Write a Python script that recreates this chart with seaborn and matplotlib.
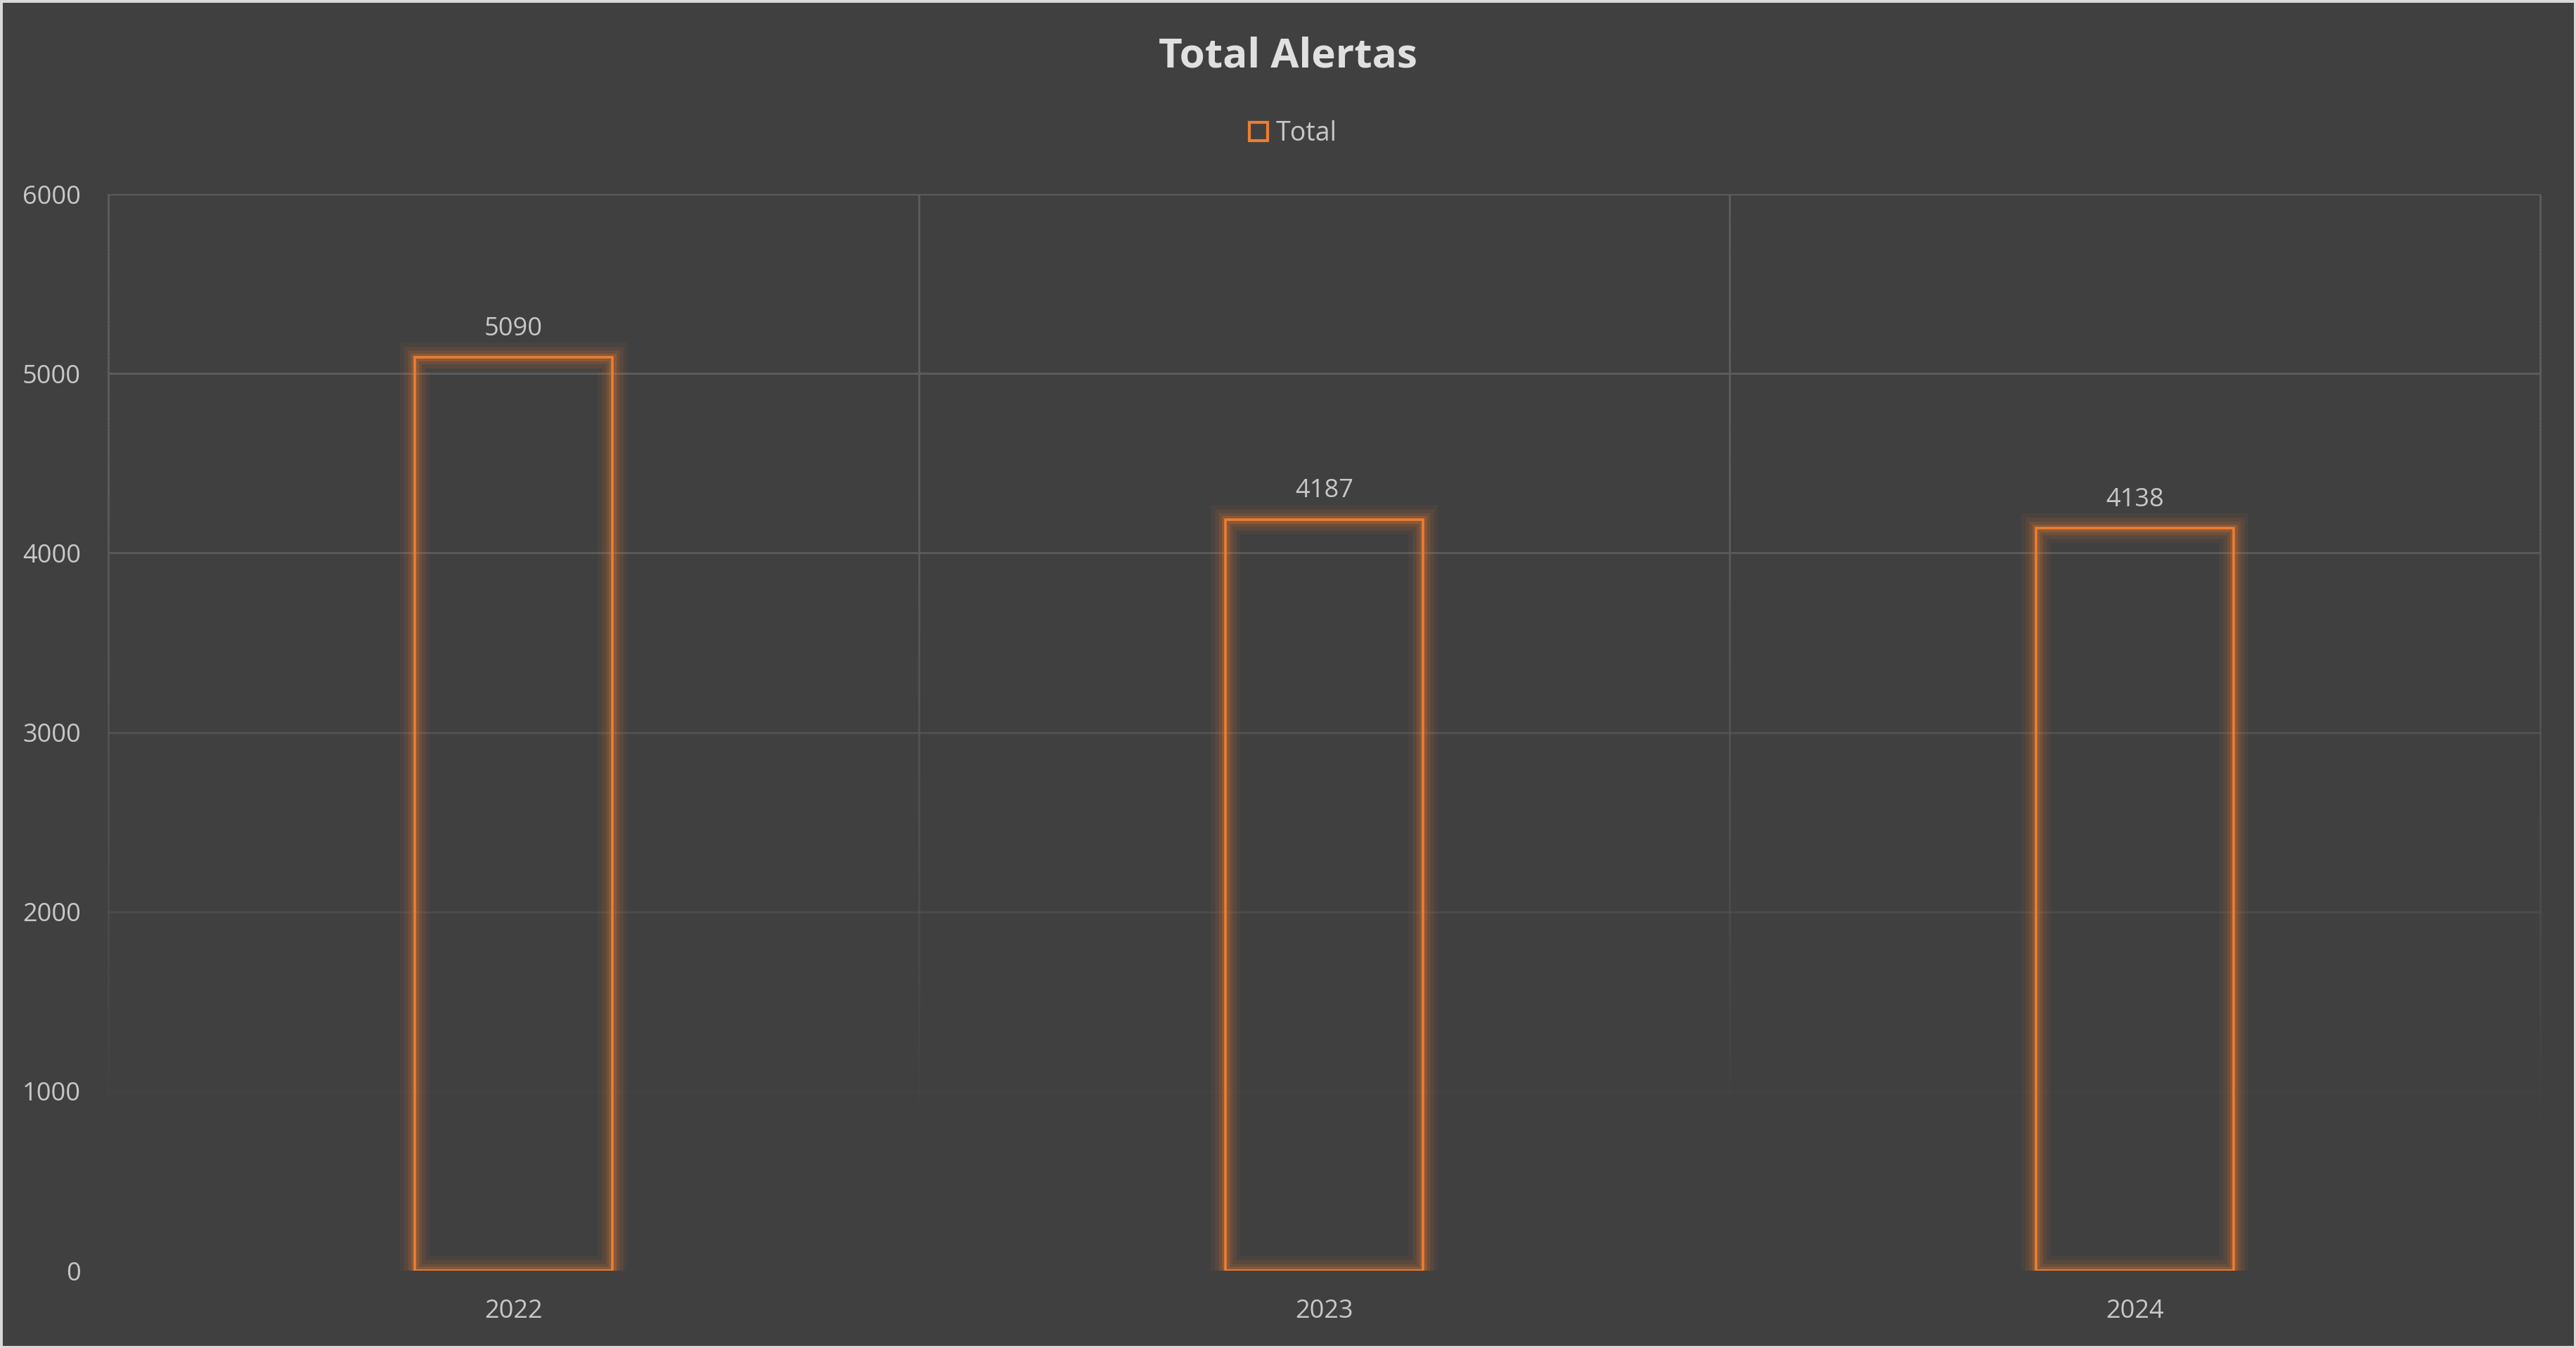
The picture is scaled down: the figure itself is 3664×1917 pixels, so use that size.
import numpy as np
import pandas as pd
import matplotlib
matplotlib.use("Agg")
import matplotlib.pyplot as plt
import matplotlib.patheffects as pe
from matplotlib.collections import LineCollection
from matplotlib.patches import Rectangle
import seaborn as sns

# ---- data ----
years = ["2022", "2023", "2024"]
totals = [5090, 4187, 4138]
y_ticks = [0, 1000, 2000, 3000, 4000, 5000, 6000]
title = "Total Alertas"
series_name = "Total"

BG = "#404040"
ORANGE = "#ED7D31"
GRID = "#5c5c5c"
TXT = "#c8c8c8"
TITLE_C = "#e0e0e0"

sns.set_theme(style="dark")
plt.rcParams["font.family"] = ["Open Sans", "DejaVu Sans"]

fig = plt.figure(figsize=(36.64, 19.17), dpi=100, facecolor=BG)
ax = fig.add_axes([154 / 3664, 1 - 1807 / 1917, (3613 - 154) / 3664, (1807 - 276) / 1917])
ax.set_facecolor(BG)

df = pd.DataFrame({"year": years, "total": totals})
sns.barplot(data=df, x="year", y="total", ax=ax, fill=False, width=0.243,
            edgecolor=ORANGE, linewidth=2.6, zorder=5, errorbar=None)

glow = [pe.Stroke(linewidth=30, foreground=ORANGE, alpha=0.06),
        pe.Stroke(linewidth=22, foreground=ORANGE, alpha=0.09),
        pe.Stroke(linewidth=14, foreground=ORANGE, alpha=0.14),
        pe.Stroke(linewidth=8, foreground=ORANGE, alpha=0.22),
        pe.Normal()]
for p in ax.patches:
    p.set_path_effects(glow)
    p.set_joinstyle("miter")

ax.set_ylim(0, 6000)
ax.set_xlim(-0.5, len(years) - 0.5)
ax.set_yticks(y_ticks)
ax.set_yticklabels([str(t) for t in y_ticks])

# value labels
for i, v in enumerate(totals):
    ax.annotate(str(v), (i, v), xytext=(0, 16), textcoords="offset points",
                ha="center", va="bottom", fontsize=26, color=TXT, zorder=6)

# fading gridlines
def alpha_at(y):
    return float(np.clip((y - 700) / (4300 - 700), 0, 1))

for yt in y_ticks[1:]:
    a = alpha_at(yt)
    if a > 0:
        ax.axhline(yt, color=GRID, lw=2.2, alpha=a, zorder=1)
ys = np.linspace(0, 6000, 301)
for xb in [-0.5, 0.5, 1.5, 2.5]:
    segs = [[(xb, ys[k]), (xb, ys[k + 1])] for k in range(len(ys) - 1)]
    cols = [(0.36, 0.36, 0.36, alpha_at((ys[k] + ys[k + 1]) / 2)) for k in range(len(ys) - 1)]
    lc = LineCollection(segs, colors=cols, linewidths=2.2, zorder=1, clip_on=False)
    ax.add_collection(lc)

for s in ax.spines.values():
    s.set_visible(False)

ax.tick_params(axis="both", length=0, labelsize=26, colors=TXT)
ax.tick_params(axis="y", pad=28)
ax.tick_params(axis="x", pad=29)
ax.set_xlabel("")
ax.set_ylabel("")
ax.grid(False)

fig.text(0.5, 1 - 80 / 1917, title, ha="center", va="center",
         fontsize=42, fontweight="bold", color=TITLE_C)

handle = Rectangle((0, 0), 1, 1, facecolor="none", edgecolor=ORANGE, linewidth=3)
leg = fig.legend([handle], [series_name], loc="center", bbox_to_anchor=(1839 / 3664, 1 - 190 / 1917),
                 frameon=False, fontsize=27, labelcolor=TXT, handlelength=0.7, handleheight=0.7,
                 handletextpad=0.3)

# figure border
fig.patches.append(Rectangle((0, 0), 1, 1, transform=fig.transFigure, fill=False,
                             edgecolor="#d9d9d9", linewidth=5, zorder=10))

fig.savefig("out.png", dpi=100, facecolor=BG)
